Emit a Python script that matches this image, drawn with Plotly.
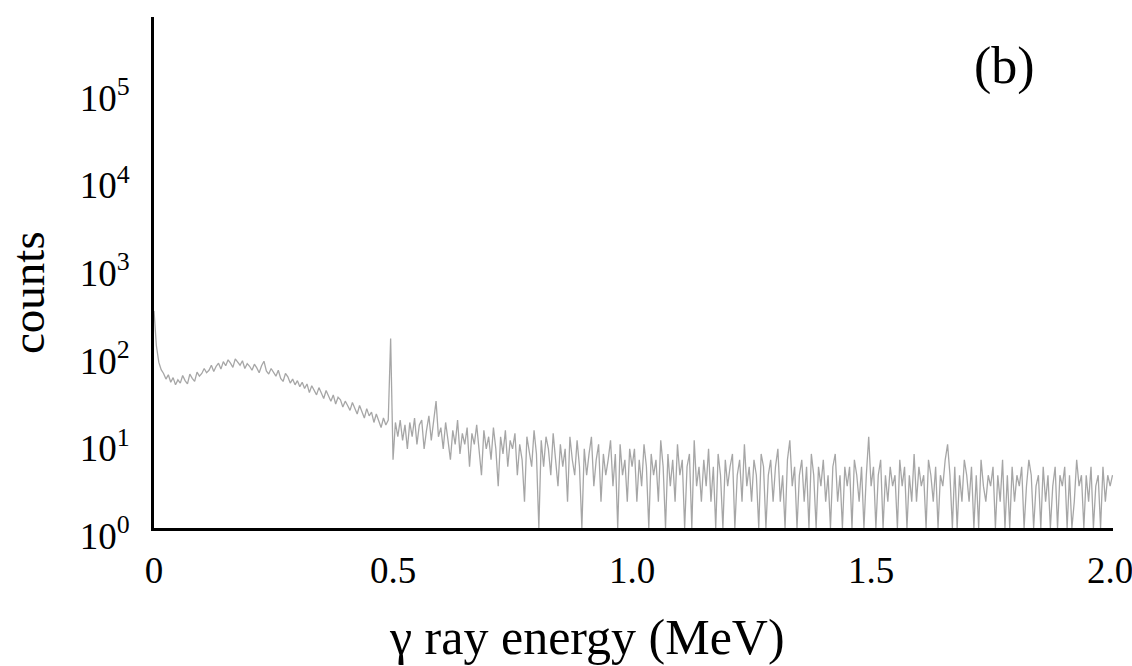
import numpy as np
import plotly.graph_objects as go

# channel energies (MeV), linear calibration, 0.005 MeV per channel
energy = [round(i * 0.005, 3) for i in range(402)]

counts = [
    300, 120, 78, 64, 58, 50, 56, 46, 52, 43,
    49, 45, 55, 48, 44, 57, 51, 47, 60, 54,
    58, 66, 59, 63, 72, 61, 70, 76, 65, 79,
    71, 83, 76, 68, 85, 79, 72, 81, 66, 75,
    70, 63, 74, 67, 59, 71, 80, 62, 57, 66,
    60, 54, 63, 51, 47, 58, 53, 45, 50, 43,
    48, 41, 46, 39, 44, 35, 42, 37, 33, 40,
    34, 30, 37, 32, 28, 33, 26, 31, 29, 24,
    28, 25, 22, 27, 23, 20, 25, 21, 18, 23,
    19, 21, 16, 20, 17, 14, 18, 15, 17, 145,
    6, 16, 11, 17, 10, 15, 8, 16, 11, 18,
    9, 15, 17, 8, 13, 19, 10, 16, 28, 11,
    14, 8, 16, 10, 6, 13, 9, 17, 7, 12,
    9, 14, 5, 12, 9, 15, 7, 4, 13, 8,
    11, 6, 14, 8, 3, 11, 7, 13, 5, 10,
    8, 12, 4, 9, 6, 2, 11, 7, 5, 13,
    7, 1, 10, 5, 11, 8, 4, 12, 6, 3,
    9, 5, 8, 2, 11, 6, 4, 10, 5, 1,
    8, 4, 7, 11, 3, 6, 9, 2, 7, 4,
    6, 10, 3, 7, 1, 9, 4, 6, 2, 8,
    5, 8, 2, 6, 3, 9, 5, 1, 7, 4,
    6, 2, 10, 5, 1, 7, 3, 6, 2, 9,
    4, 6, 1, 5, 7, 1, 10, 3, 5, 2,
    6, 3, 8, 2, 5, 1, 7, 4, 1, 6,
    3, 5, 7, 1, 4, 6, 2, 9, 3, 5,
    2, 6, 4, 1, 7, 5, 1, 4, 6, 2,
    5, 8, 2, 4, 1, 6, 10, 3, 5, 1,
    4, 6, 2, 5, 1, 7, 4, 1, 5, 3,
    6, 2, 4, 1, 5, 7, 2, 4, 1, 5,
    3, 5, 1, 6, 4, 2, 5, 1, 4, 11,
    3, 5, 1, 4, 6, 1, 4, 2, 5, 3,
    4, 1, 6, 3, 5, 1, 4, 2, 7, 2,
    5, 3, 4, 1, 6, 4, 2, 5, 1, 4,
    3, 6, 9, 4, 1, 5, 1, 4, 2, 6,
    4, 2, 5, 1, 4, 1, 6, 3, 2, 4,
    3, 5, 1, 4, 2, 6, 1, 4, 1, 5,
    2, 4, 3, 5, 1, 3, 6, 4, 1, 3,
    4, 1, 5, 2, 4, 1, 3, 5, 1, 4,
    3, 5, 1, 4, 1, 2, 6, 3, 4, 1,
    4, 2, 5, 1, 3, 4, 1, 5, 2, 4,
    3, 4,
]

y_tick_vals = [1, 10, 100, 1000, 10000, 100000]
y_tick_text = ["10<sup>0</sup>", "10<sup>1</sup>", "10<sup>2</sup>",
               "10<sup>3</sup>", "10<sup>4</sup>", "10<sup>5</sup>"]
x_tick_vals = [0, 0.5, 1.0, 1.5, 2.0]
x_tick_text = ["0", "0.5", "1.0", "1.5", "2.0"]

FONT = "Liberation Serif"

fig = go.Figure()
fig.add_trace(go.Scatter(
    x=energy, y=counts, mode="lines",
    line=dict(color="rgba(150,150,150,0.85)", width=1.3),
    showlegend=False, hoverinfo="skip",
))

fig.update_layout(
    width=1132, height=666,
    margin=dict(l=154, r=19, t=17, b=138, autoexpand=False),
    paper_bgcolor="white", plot_bgcolor="white",
    font=dict(family=FONT, color="black"),
    xaxis=dict(
        range=[0, 2.006], showgrid=False, zeroline=False, automargin=False,
        showline=True, linecolor="black", linewidth=3,
        tickvals=x_tick_vals, ticktext=x_tick_text,
        tickfont=dict(family=FONT, size=37, color="black"),
        ticks="", ticklabelstandoff=8, ticklabeloverflow="allow",
    ),
    yaxis=dict(
        type="log", range=[0, 5.83], showgrid=False, zeroline=False, automargin=False,
        showline=True, linecolor="black", linewidth=3,
        tickvals=y_tick_vals, ticktext=y_tick_text,
        tickfont=dict(family=FONT, size=37, color="black"),
        ticks="", ticklabelstandoff=14, ticklabelshift=8,
        ticklabeloverflow="allow",
    ),
    annotations=[
        dict(text="counts", xref="paper", yref="paper",
             x=(28 - 154) / 959, y=(528 - 293) / 511,
             xanchor="center", yanchor="middle", textangle=-90,
             showarrow=False, font=dict(family=FONT, size=47, color="black")),
        dict(text="γ ray energy (MeV)", xref="paper", yref="paper",
             x=(587 - 154) / 959, y=(528 - 637) / 511,
             xanchor="center", yanchor="middle",
             showarrow=False, font=dict(family=FONT, size=50, color="black")),
        dict(text="(b)", xref="paper", yref="paper",
             x=(1004 - 154) / 959, y=(528 - 66) / 511,
             xanchor="center", yanchor="middle",
             showarrow=False, font=dict(family=FONT, size=52, color="black")),
    ],
)

fig.write_html("out.html")
